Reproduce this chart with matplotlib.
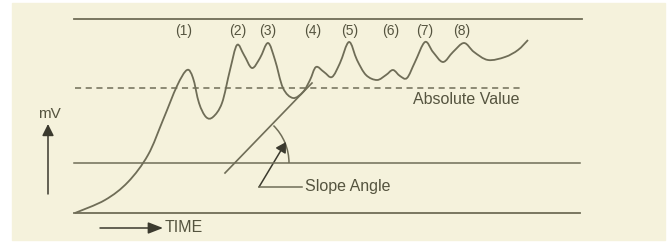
import matplotlib
matplotlib.use('Agg')
import matplotlib.pyplot as plt
from matplotlib.path import Path
from matplotlib.patches import PathPatch, Arc, FancyArrowPatch
import numpy as np

# Values, in picture units (x = time, y = signal, y grows downward)
curve_x = [75, 105, 128, 148, 163, 177, 187, 193, 199, 206, 213, 222, 230,
           237, 244, 252, 260, 268, 275, 283, 293, 303, 310, 316, 324, 332, 340, 349,
           357, 366, 377, 386, 393, 400, 407, 415, 425, 433, 443, 453, 464, 474, 488,
           505, 518, 528]
curve_y = [213, 200, 182, 155, 120, 86, 70, 78, 103, 117, 117, 103, 70,
           45, 55, 68, 58, 43, 60, 88, 98, 92, 80, 67, 72, 77, 63, 42,
           60, 75, 80, 75, 70, 76, 78, 62, 42, 52, 62, 52, 43, 52, 60,
           57, 50, 40]

peak_labels = ['(1)', '(2)', '(3)', '(4)', '(5)', '(6)', '(7)', '(8)']
peak_label_x = [184, 238, 268, 313, 350, 391, 425, 462]

top_level = 19
absolute_level = 88
middle_level = 163
base_level = 213

slope_x = [225, 312]
slope_y = [173, 83]

line_color = '#6f6d57'
text_color = '#55543f'
bg = '#f5f2dc'

plt.rcParams['font.family'] = ['Liberation Sans Narrow', 'Liberation Sans', 'DejaVu Sans']

fig = plt.figure(figsize=(6.7, 2.42), dpi=100)
fig.patch.set_facecolor('white')
ax = fig.add_axes([0, 0, 1, 1])
ax.set_xlim(0, 670)
ax.set_ylim(242, 0)
ax.axis('off')

# cream panel
ax.add_patch(plt.Rectangle((12, 3), 653, 237, color=bg, zorder=0))

# reference levels
ax.plot([74, 582], [top_level, top_level], color=line_color, lw=1.3)
ax.plot([74, 580], [middle_level, middle_level], color=line_color, lw=1.1)
ax.plot([74, 580], [base_level, base_level], color=line_color, lw=1.3)
ax.plot([75, 520], [absolute_level, absolute_level], color=line_color, lw=1.1,
        linestyle=(0, (4, 3)))

# smooth signal curve (Catmull-Rom through the read points)
pts = np.column_stack([curve_x, curve_y]).astype(float)
verts = [pts[0]]
codes = [Path.MOVETO]
for i in range(len(pts) - 1):
    p0 = pts[i - 1] if i > 0 else pts[i]
    p1 = pts[i]
    p2 = pts[i + 1]
    p3 = pts[i + 2] if i + 2 < len(pts) else pts[i + 1]
    verts += [p1 + (p2 - p0) / 6, p2 - (p3 - p1) / 6, p2]
    codes += [Path.CURVE4] * 3
ax.add_patch(PathPatch(Path(verts, codes), fill=False, edgecolor=line_color, lw=1.3))

for lab, lx in zip(peak_labels, peak_label_x):
    ax.text(lx, 31, lab, ha='center', va='center', fontsize=10, color=text_color)

ax.text(413, 99, 'Absolute Value', ha='left', va='center', fontsize=11.5, color=text_color)

# slope line and angle
ax.plot(slope_x, slope_y, color=line_color, lw=1.2)
ax.add_patch(Arc((236, middle_level), 106, 106, theta1=-45, theta2=0,
                 color=line_color, lw=1.1))
ax.plot([302, 259], [187, 187], color=line_color, lw=1.1)
ax.add_patch(FancyArrowPatch((259, 187), (286, 142), arrowstyle='-|>,head_length=6,head_width=3.5',
                             color='#3b3a2e', lw=1.1, shrinkA=0, shrinkB=0))
ax.text(305, 187, 'Slope Angle', ha='left', va='center', fontsize=11.5, color=text_color)

# axis hints
ax.text(49, 114, 'mV', ha='center', va='center', fontsize=11, color=text_color)
ax.add_patch(FancyArrowPatch((48, 194), (48, 124), arrowstyle='-|>,head_length=7,head_width=3.5',
                             color='#3b3a2e', lw=1.1, shrinkA=0, shrinkB=0))
ax.add_patch(FancyArrowPatch((100, 228), (163, 228), arrowstyle='-|>,head_length=9,head_width=3.5',
                             color='#3b3a2e', lw=1.1, shrinkA=0, shrinkB=0))
ax.text(165, 228, 'TIME', ha='left', va='center', fontsize=11.5, color=text_color)

fig.savefig('out.png', dpi=100, facecolor='white')
